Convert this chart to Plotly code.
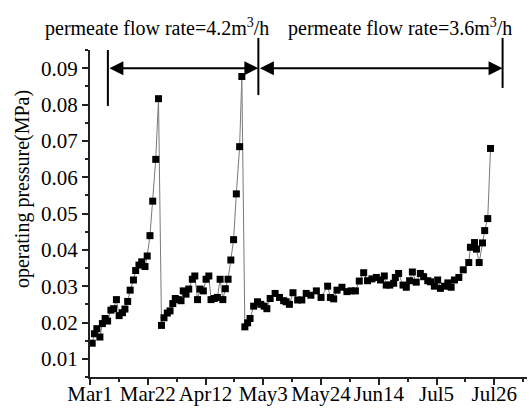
import pandas as pd
import plotly.graph_objects as go

# days since 1 March
days = [0.8, 1.6, 2.5, 3.6, 4.5, 5.5, 6.4, 7.6, 8.6, 9.6, 10.6, 11.8, 12.7, 13.7, 14.6,
        15.8, 16.6, 17.8, 18.8, 20.0, 20.8, 21.8, 22.8, 23.9, 24.9,
        26.0, 26.9, 28.1, 29.1, 30.1, 31.0, 32.1, 33.1, 33.9, 34.9, 35.9, 37.2, 38.1,
        39.1, 40.0, 41.2, 42.2, 43.2, 44.0, 45.2, 46.3, 47.3, 48.3, 49.2, 50.2, 51.2,
        52.2, 53.2, 54.4, 55.2,
        56.3, 57.3, 58.2, 59.5, 60.9, 62.1, 63.3, 64.3, 65.5, 67.3, 68.9, 70.4, 71.3,
        72.5, 73.8, 75.5, 77.0, 78.6, 80.3, 82.3, 84.0, 86.4, 87.4, 88.6, 89.8, 91.6,
        93.4, 94.9, 96.5, 97.9, 99.5, 100.9, 102.5, 104.1, 105.6, 107.0, 107.7, 109.0,
        110.4, 111.0, 112.2, 113.8, 115.0, 116.2, 117.2, 118.6, 120.1, 121.3, 122.8,
        123.8, 125.2, 126.4, 127.4, 128.9, 130.1, 131.3, 132.5, 134.1, 135.7, 137.7,
        138.3, 139.8, 140.5, 141.5, 142.7, 143.5, 144.6, 145.6]

pressure = [0.0143, 0.0169, 0.0183, 0.0160, 0.0197, 0.0211, 0.0204, 0.0234, 0.0238, 0.0263,
            0.0219, 0.0227, 0.0237, 0.0258, 0.0289, 0.0317, 0.0343, 0.0358, 0.0367, 0.0354,
            0.0383, 0.0439, 0.0534, 0.0649, 0.0816,
            0.0192, 0.0213, 0.0226, 0.0232, 0.0252, 0.0266, 0.0263, 0.0260, 0.0287, 0.0278,
            0.0292, 0.0319, 0.0328, 0.0263, 0.0292, 0.0287, 0.0319, 0.0328, 0.0263, 0.0266,
            0.0269, 0.0319, 0.0263, 0.0293, 0.0319, 0.0372, 0.0428, 0.0554, 0.0684, 0.0877,
            0.0188, 0.0199, 0.0211, 0.0245, 0.0257, 0.0250, 0.0245, 0.0238, 0.0266, 0.0280,
            0.0269, 0.0260, 0.0257, 0.0250, 0.0282, 0.0262, 0.0262, 0.0280, 0.0275, 0.0287,
            0.0269, 0.0300, 0.0269, 0.0265, 0.0289, 0.0297, 0.0285, 0.0287, 0.0287, 0.0314,
            0.0337, 0.0315, 0.0320, 0.0324, 0.0317, 0.0328, 0.0303, 0.0303, 0.0308, 0.0324,
            0.0335, 0.0303, 0.0297, 0.0315, 0.0339, 0.0311, 0.0335, 0.0326, 0.0315, 0.0312,
            0.0300, 0.0317, 0.0294, 0.0300, 0.0309, 0.0297, 0.0317, 0.0324, 0.0345, 0.0365,
            0.0407, 0.0420, 0.0402, 0.0365, 0.0419, 0.0453, 0.0486, 0.0679]

start_date = "2010-03-01"
period_bounds = ["2010-03-07 12:00", "2010-05-01 05:00", "2010-07-29 00:00"]
period_labels = ["permeate flow rate=4.2m<sup>3</sup>/h", "permeate flow rate=3.6m<sup>3</sup>/h"]
y_title = "operating pressure(MPa)"

dates = pd.to_datetime(start_date) + pd.to_timedelta(days, unit="D")

FONT = "Liberation Serif, Times New Roman, serif"

fig = go.Figure()
fig.add_trace(go.Scatter(
    x=dates, y=pressure, mode="lines+markers",
    line=dict(color="#7a7a7a", width=1),
    marker=dict(symbol="square", size=7, color="black", line=dict(width=0)),
    showlegend=False, cliponaxis=False,
))

fig.update_layout(
    width=530, height=409,
    margin=dict(l=90, r=3, t=50, b=32),
    paper_bgcolor="white", plot_bgcolor="white",
    font=dict(family=FONT, size=21, color="black"),
    xaxis=dict(
        range=["2010-03-01", "2010-08-06 21:00"],
        automargin=False,
        tickmode="linear", tick0="2010-03-01", dtick=21 * 86400000,
        tickformat="%b%-d",
        showgrid=False, zeroline=False,
        showline=True, linecolor="#222", linewidth=2,
        ticks="outside", ticklen=6, tickwidth=1.5, tickcolor="#222",
        ticklabelstandoff=-9,
        minor=dict(tickmode="linear", tick0="2010-03-01", dtick=10.5 * 86400000,
                   ticks="outside", ticklen=3, tickwidth=1.5, tickcolor="#222"),
        tickfont=dict(size=21),
    ),
    yaxis=dict(
        range=[0.005, 0.095],
        automargin=False,
        tickmode="linear", tick0=0.01, dtick=0.01, tickformat=".2f",
        showgrid=False, zeroline=False,
        showline=True, linecolor="#222", linewidth=2,
        ticks="outside", ticklen=6, tickwidth=1.5, tickcolor="#222",
        minor=dict(tickmode="linear", tick0=0.005, dtick=0.005,
                   ticks="outside", ticklen=3, tickwidth=1.5, tickcolor="#222"),
        tickfont=dict(size=21),
    ),
)

# vertical boundary lines
line_spans = [(0.829, 1.0), (0.862, 1.037), (0.884, 1.037)]
for xb, (y0, y1) in zip(period_bounds, line_spans):
    fig.add_shape(type="line", xref="x", yref="paper", x0=xb, x1=xb, y0=y0, y1=y1,
                  line=dict(color="black", width=2))

# double-headed arrows
for a, b in [(period_bounds[0], period_bounds[1]), (period_bounds[1], period_bounds[2])]:
    fig.add_annotation(x=b, y=0.09, ax=a, ay=0.09, xref="x", yref="y", axref="x", ayref="y",
                       text="", showarrow=True, arrowside="end+start",
                       arrowhead=2, startarrowhead=2, arrowsize=1.4, startarrowsize=1.4,
                       arrowwidth=2, arrowcolor="black", standoff=0, startstandoff=0)

# labels above
for xp, txt in zip([0.153, 0.709], period_labels):
    fig.add_annotation(x=xp, y=1.07, xref="paper", yref="paper", text=txt, showarrow=False,
                       xanchor="center", yanchor="middle", font=dict(size=20, family=FONT))

fig.add_annotation(x=-0.153, y=0.575, xref="paper", yref="paper", text=y_title,
                   textangle=-90, showarrow=False, xanchor="center", yanchor="middle",
                   font=dict(size=20, family=FONT))

fig.write_html(
    "out.html",
    config={"displayModeBar": False},
    post_script="document.body.style.margin='0';document.body.style.overflow='hidden';",
)
